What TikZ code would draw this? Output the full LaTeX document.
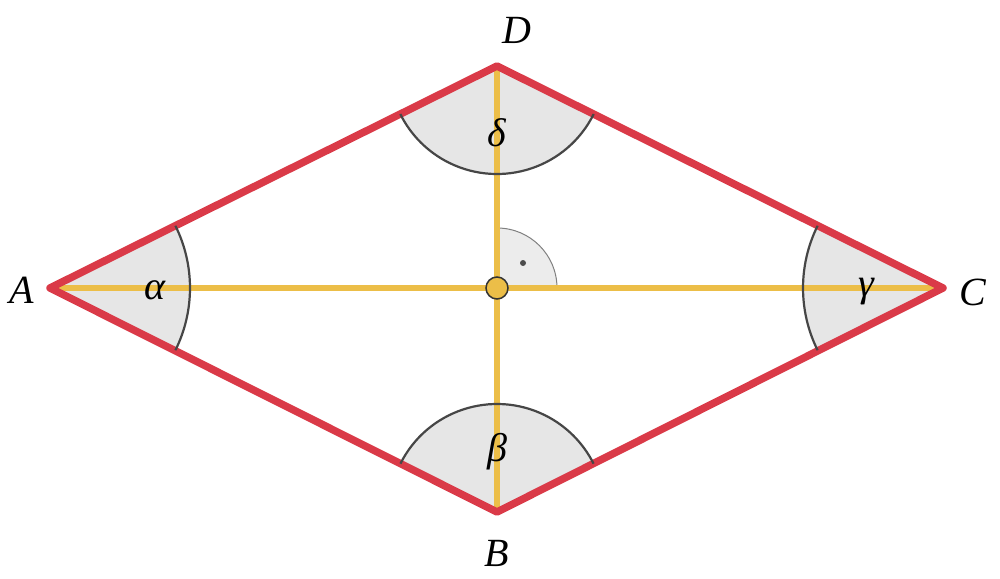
\documentclass[tikz,border=0pt]{standalone}
\usepackage{fontspec}
\setmainfont{Liberation Serif}
\begin{document}
\begin{tikzpicture}[x=1pt,y=-1pt,
  side/.style={draw={rgb,255:red,218;green,58;blue,72},line width=7.5pt,line join=round},
  diag/.style={draw={rgb,255:red,236;green,190;blue,72},line width=6.5pt},
  sect/.style={fill={rgb,255:red,230;green,230;blue,230}},
  arcl/.style={draw={rgb,255:red,70;green,70;blue,70},line width=2.2pt},
  lbl/.style={font=\fontsize{40}{40}\selectfont\itshape}]
\useasboundingbox (0,0) rectangle (1000,578);
\coordinate (A) at (50,288); \coordinate (C) at (943,288);
\coordinate (D) at (497,66); \coordinate (B) at (497,512);
\coordinate (M) at (497,288);
\fill[sect] (A) -- ++(-26.4:140) arc(-26.4:26.4:140) -- cycle;
\fill[sect] (C) -- ++(153.6:140) arc(153.6:206.4:140) -- cycle;
\fill[sect] (D) -- ++(26.4:108) arc(26.4:153.6:108) -- cycle;
\fill[sect] (B) -- ++(206.6:108) arc(206.6:333.4:108) -- cycle;
\filldraw[fill={rgb,255:red,236;green,236;blue,236},draw=gray,line width=1pt] (M) -- ++(0:60) arc(0:-90:60) -- cycle;
\fill[black!70] (523,263) circle (3);
\draw[diag] (A) -- (C); \draw[diag] (D) -- (B);
\draw[side] (A) -- (D) -- (C) -- (B) -- cycle;
\draw[arcl] (A) ++(-26.4:140) arc(-26.4:26.4:140);
\draw[arcl] (C) ++(153.6:140) arc(153.6:206.4:140);
\draw[arcl] (D) ++(26.4:108) arc(26.4:153.6:108);
\draw[arcl] (B) ++(206.6:108) arc(206.6:333.4:108);
\filldraw[fill={rgb,255:red,236;green,190;blue,72},draw=black!80,line width=1.5pt] (M) circle (11);
\node[lbl] (la) at (155,290) {α};
\node[lbl] (lg) at (866,292) {γ};
\node[lbl] (ld) at (497,133) {δ};
\node[lbl] (lb) at (497,452) {β};
\node[lbl] (nA) at (22,290) {A};
\node[lbl] (nC) at (973,292) {C};
\node[lbl] (nD) at (517,30) {D};
\node[lbl] (nB) at (497,553) {B};
\end{tikzpicture}
\end{document}
